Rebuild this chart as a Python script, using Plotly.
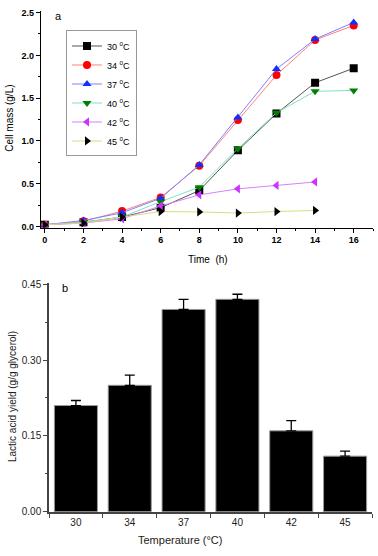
import plotly.graph_objects as go

# ---- data: panel a (cell mass vs time) ----
time_full = [0, 2, 4, 6, 8, 10, 12, 14, 16]
time_short = [0, 2, 4, 6, 8, 10, 12, 14]
mass_30 = [0.02, 0.05, 0.11, 0.22, 0.42, 0.89, 1.32, 1.68, 1.85]
mass_34 = [0.02, 0.06, 0.18, 0.34, 0.71, 1.245, 1.77, 2.18, 2.35]
mass_37 = [0.02, 0.07, 0.16, 0.33, 0.72, 1.275, 1.84, 2.19, 2.385]
mass_40 = [0.02, 0.05, 0.11, 0.29, 0.46, 0.91, 1.33, 1.58, 1.59]
mass_42 = [0.02, 0.04, 0.09, 0.24, 0.37, 0.44, 0.48, 0.52]
mass_45 = [0.02, 0.04, 0.11, 0.175, 0.17, 0.157, 0.175, 0.187]

# ---- data: panel b (lactic acid yield) ----
temps = ["30", "34", "37", "40", "42", "45"]
yield_vals = [0.21, 0.25, 0.40, 0.42, 0.16, 0.11]
yield_err = [0.01, 0.02, 0.02, 0.01, 0.02, 0.01]

W, H = 378, 556

def px_x(p):
    return p / W

def px_y(p):
    return 1 - p / H

series = [
    ("30 <sup>o</sup>C", time_full, mass_30, "square", "#000000", "#555555"),
    ("34 <sup>o</sup>C", time_full, mass_34, "circle", "#ff0000", "#ff8080"),
    ("37 <sup>o</sup>C", time_full, mass_37, "triangle-up", "#1030ff", "#8080ff"),
    ("40 <sup>o</sup>C", time_full, mass_40, "triangle-down", "#008000", "#80e0c0"),
    ("42 <sup>o</sup>C", time_short, mass_42, "triangle-left", "#cc33ff", "#d880ff"),
    ("45 <sup>o</sup>C", time_short, mass_45, "triangle-right", "#000000", "#d8dc80"),
]

fig = go.Figure()
for name, xs, ys, sym, mc, lc in series:
    fig.add_trace(go.Scatter(
        x=xs, y=ys, name=name, mode="lines+markers",
        line=dict(color=lc, width=1),
        marker=dict(symbol=sym, color=mc, size=8, line=dict(width=0)),
        xaxis="x", yaxis="y",
    ))

fig.add_trace(go.Bar(
    x=temps, y=yield_vals, width=0.8,
    marker=dict(color="#000000", line=dict(color="#999999", width=1)),
    error_y=dict(type="data", array=yield_err, symmetric=False,
                 arrayminus=[0] * len(yield_err),
                 color="#000000", thickness=1.3, width=5),
    xaxis="x2", yaxis="y2", showlegend=False,
))

bold_tick = dict(family="Arial, Liberation Sans, sans-serif", size=9, color="#000000",
                 weight="bold")
reg_tick = dict(family="Arial, Liberation Sans, sans-serif", size=10, color="#222222")

fig.update_layout(
    width=W, height=H,
    margin=dict(l=0, r=0, t=0, b=0),
    paper_bgcolor="white", plot_bgcolor="white",
    font=dict(family="Arial, Liberation Sans, sans-serif", color="#000000"),
    xaxis=dict(
        domain=[px_x(41), px_x(373)], anchor="y",
        range=[-0.2, 17], dtick=2, tick0=0,
        showline=True, linecolor="#000000", linewidth=1.3,
        ticks="outside", ticklen=4, tickwidth=1, tickcolor="#000000",
        minor=dict(dtick=1, ticks="outside", ticklen=2, tickcolor="#000000"),
        showgrid=False, zeroline=False,
        tickfont=bold_tick,
    ),
    yaxis=dict(
        domain=[px_y(227), px_y(6)], anchor="x",
        range=[-0.012, 2.52], dtick=0.5, tick0=0, tickformat=".1f",
        showline=True, linecolor="#000000", linewidth=1.3,
        ticks="outside", ticklen=4, tickwidth=1, tickcolor="#000000",
        minor=dict(dtick=0.25, ticks="outside", ticklen=2, tickcolor="#000000"),
        showgrid=False, zeroline=False,
        tickfont=bold_tick,
    ),
    xaxis2=dict(
        domain=[px_x(49), px_x(372)], anchor="y2",
        type="category", range=[-0.5, 5.5],
        tickson="boundaries",
        showline=True, linecolor="#444444", linewidth=1.5,
        ticks="outside", ticklen=4, tickwidth=1, tickcolor="#444444",
        showgrid=False, zeroline=False,
        tickfont=reg_tick,
    ),
    yaxis2=dict(
        domain=[px_y(517), px_y(284)], anchor="x2",
        range=[0, 0.4515], dtick=0.15, tick0=0, tickformat=".2f",
        showline=True, linecolor="#444444", linewidth=1.5,
        ticks="outside", ticklen=4, tickwidth=1, tickcolor="#444444",
        minor=dict(dtick=0.075, ticks="outside", ticklen=2, tickcolor="#444444"),
        showgrid=False, zeroline=False,
        tickfont=reg_tick,
    ),
    legend=dict(
        x=px_x(66), y=px_y(26), xanchor="left", yanchor="top",
        bgcolor="white", bordercolor="#999999", borderwidth=1,
        font=dict(size=9, color="#000000"),
        tracegroupgap=0, itemwidth=30,
    ),
    showlegend=True,
    bargap=0.2,
)

def note(text, x, y, size=10, color="#000000", angle=0):
    fig.add_annotation(text=text, x=px_x(x), y=px_y(y), xref="paper", yref="paper",
                       xanchor="center", yanchor="middle", textangle=angle,
                       showarrow=False,
                       font=dict(family="Arial, Liberation Sans, sans-serif",
                                 size=size, color=color))

note("Cell mass (g/L)", 10, 116, angle=-90)
note("Time  (h)", 208, 260)
note("a", 58, 11, size=11)
note("Lactic acid yield (g/g glycerol)", 12, 400, color="#222222", angle=-90)
note("Temperature (°C)", 180, 546, size=11, color="#222222")
note("b", 65, 289, size=11)

fig.write_html(
    "out.html",
    config={"displayModeBar": False},
    post_script="document.body.style.margin='0';document.body.style.overflow='hidden';",
)
